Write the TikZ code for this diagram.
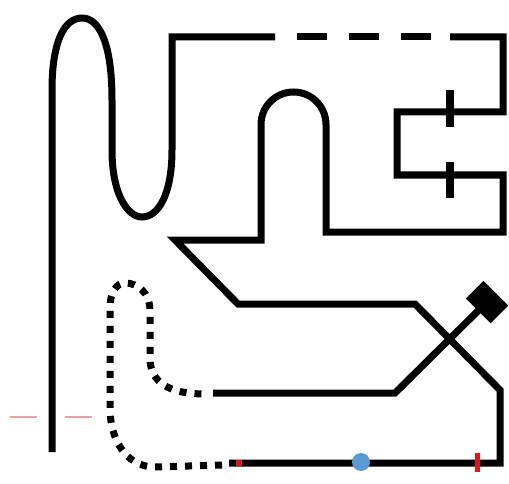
\documentclass[tikz,border=0pt]{standalone}
\definecolor{bluedot}{RGB}{91,155,213}
\definecolor{redmk}{RGB}{225,20,30}
\definecolor{pinkmk}{RGB}{235,160,170}
\begin{document}
\begin{tikzpicture}[x=1pt,y=1pt,
  track/.style={line width=7pt,black},
  dashtrack/.style={track,dash pattern=on 30pt off 22pt,dash phase=30pt},
  dottrack/.style={track,dash pattern=on 7pt off 8pt},
  tickmark/.style={line width=8pt,black},
  redmark/.style={line width=5pt,redmk},
  pinkline/.style={line width=1.2pt,pinkmk}]
\useasboundingbox (0,0) rectangle (509,483);
% wave on the left
\draw[track] (52,31) -- (52,393) .. controls (52,443) and (65,465) .. (82,465)
  .. controls (100,465) and (112,438) .. (112,383) -- (112,333)
  .. controls (112,288) and (128,266) .. (142,266)
  .. controls (158,266) and (172,288) .. (172,333) -- (172,446) -- (275,446);
% dashed top part
\draw[dashtrack] (275,446) -- (450,446);
% main track
\draw[track] (450,446) -- (503,446) -- (503,371) -- (397,371) -- (397,308) -- (503,308)
  -- (503,251) -- (326,251) -- (326,358.5) arc[start angle=0,end angle=180,radius=32.5]
  -- (261,243) -- (175,243) -- (238,179) -- (415,179) -- (500,93) -- (500,20) -- (229,20);
% ticks
\draw[tickmark] (450,393) -- (450,356);
\draw[tickmark] (450,321) -- (450,285);
% crossing track with diamond
\node[draw=none,fill=black,minimum width=25pt,minimum height=35pt,rotate=45,inner sep=0pt] (dia) at (487,181) {};
\coordinate (c0) at (213,90);
\coordinate (c1) at (395,90);
\draw[track] (c0) -- (c1) -- (dia.center);
% dotted curve
\draw[dottrack] (222,18) -- (155,16) .. controls (125,16) and (110,45) .. (110,75) -- (110,175)
  .. controls (110,190) and (116,200) .. (125,200) .. controls (138,200) and (150,190) .. (150,172)
  -- (150,125) .. controls (150,100) and (170,89) .. (205,89);
% marks on bottom line
\fill[redmk] (236,17) rectangle (242,23);
\draw[redmark] (477,30) -- (477,11);
\fill[bluedot] (361,21) circle (9pt);
% pink lines
\draw[pinkline] (10,66) -- (37,66);
\draw[pinkline] (65,66) -- (92,66);
\end{tikzpicture}
\end{document}
